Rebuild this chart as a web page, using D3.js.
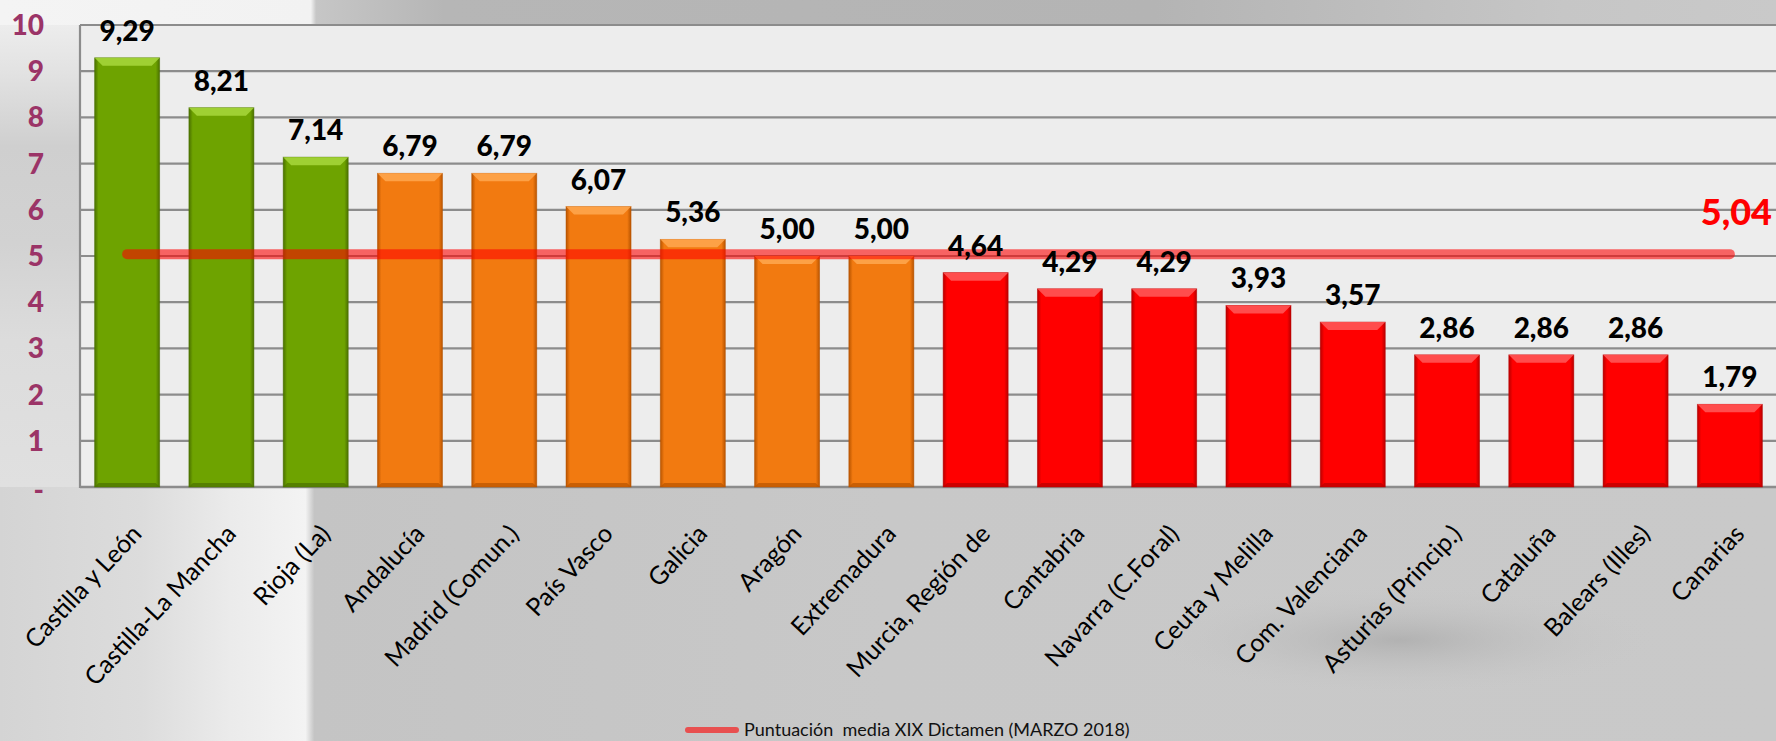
<!DOCTYPE html>
<html><head><meta charset="utf-8">
<script src="https://cdn.jsdelivr.net/npm/d3@7"></script>
<style>body{margin:0;overflow:hidden;background:#c9c9c9}</style>
</head><body>
<svg id="c" width="1776" height="741"></svg>
<script>
const categories = ["Castilla y León","Castilla-La Mancha","Rioja (La)","Andalucía","Madrid (Comun.)","País Vasco","Galicia","Aragón","Extremadura","Murcia, Región de","Cantabria","Navarra (C.Foral)","Ceuta y Melilla","Com. Valenciana","Asturias (Princip.)","Cataluña","Balears (Illes)","Canarias"];
const values = [9.29,8.21,7.14,6.79,6.79,6.07,5.36,5.00,5.00,4.64,4.29,4.29,3.93,3.57,2.86,2.86,2.86,1.79];
const groups = ["g","g","g","o","o","o","o","o","o","r","r","r","r","r","r","r","r","r"];
const average = 5.04;
const yTicks = [0,1,2,3,4,5,6,7,8,9,10];
const yTickLabels = ["-","1","2","3","4","5","6","7","8","9","10"];
const legendLabel = "Puntuación  media XIX Dictamen (MARZO 2018)";

const svg = d3.select("#c");
const W = 1776, H = 741;
const L = 80, R = 1777, T = 25, B = 487;
const fmt = v => v.toFixed(2).replace(".", ",");
const FONT = "Lato, 'Open Sans', sans-serif";

const palette = {
  g: {main:"#6ea300", light:"#a8d83c", dark:"#4a7000"},
  o: {main:"#f27a10", light:"#ffa850", dark:"#b85400"},
  r: {main:"#ff0000", light:"#ff5a5a", dark:"#b80000"}
};

const defs = svg.append("defs");
function lg(id, x2, y2, stops){
  const g = defs.append("linearGradient").attr("id",id).attr("x1",0).attr("y1",0).attr("x2",x2).attr("y2",y2);
  stops.forEach(s=>g.append("stop").attr("offset",s[0]).attr("stop-color",s[1]));
}
lg("bgTop",1,0,[[0,"#f4f4f4"],[0.175,"#f2f2f2"],[0.178,"#c6c6c6"],[0.25,"#b6b6b6"],[0.65,"#b4b4b4"],[0.88,"#c6c6c6"],[1,"#c9c9c9"]]);
lg("bgLeftCol",0,1,[[0,"#f2f2f2"],[0.15,"#e2e2e2"],[0.3,"#cfcfcf"],[0.5,"#d2d2d2"],[0.7,"#dcdcdc"],[1,"#e0e0e0"]]);
lg("bgBot",1,0,[[0,"#d4d4d4"],[0.08,"#dcdcdc"],[0.13,"#ebebeb"],[0.172,"#f3f3f3"],[0.177,"#c4c4c4"],[0.5,"#c8c8c8"],[1,"#c9c9c9"]]);
Object.entries(palette).forEach(([k,c]) => {
  lg("bar_"+k,1,0,[[0,c.dark],[0.06,c.main],[0.94,c.main],[1,c.dark]]);
});
const rg = defs.append("radialGradient").attr("id","blob");
rg.append("stop").attr("offset",0).attr("stop-color","#a8a8a8").attr("stop-opacity",0.7);
rg.append("stop").attr("offset",1).attr("stop-color","#c8c8c8").attr("stop-opacity",0);

svg.append("rect").attr("width",W).attr("height",H).attr("fill","#c9c9c9");
svg.append("rect").attr("x",0).attr("y",B).attr("width",W).attr("height",H-B).attr("fill","url(#bgBot)");
svg.append("ellipse").attr("cx",1400).attr("cy",640).attr("rx",260).attr("ry",55).attr("fill","url(#blob)");
svg.append("rect").attr("x",0).attr("y",0).attr("width",L).attr("height",B).attr("fill","url(#bgLeftCol)");
svg.append("rect").attr("x",0).attr("y",0).attr("width",W).attr("height",T).attr("fill","url(#bgTop)");

const x = d3.scaleBand().domain(categories).range([L,R]).paddingInner(0.31).paddingOuter(0.155);
const y = d3.scaleLinear().domain([0,10]).range([B,T]);

// plot area
svg.append("rect").attr("x",L).attr("y",T).attr("width",R-L).attr("height",B-T).attr("fill","#ededed");

// gridlines
svg.append("g").selectAll("line").data(yTicks.filter(t=>t>0)).join("line")
  .attr("x1",L).attr("x2",R).attr("y1",d=>y(d)).attr("y2",d=>y(d))
  .attr("stroke","#8c8c8c").attr("stroke-width",2.2);
svg.append("line").attr("x1",L).attr("x2",L).attr("y1",T).attr("y2",B+1).attr("stroke","#8c8c8c").attr("stroke-width",2.2);
svg.append("line").attr("x1",L).attr("x2",R).attr("y1",B).attr("y2",B).attr("stroke","#8c8c8c").attr("stroke-width",2.5);

// y tick labels
svg.append("g").selectAll("text").data(yTicks).join("text")
  .attr("x",44).attr("y",(d)=>y(d)+ (d===0?3:0)).attr("dy","0.36em")
  .attr("text-anchor","end")
  .attr("font-family",FONT).attr("font-weight",900).attr("font-size",28)
  .attr("fill","#9b3467")
  .text((d,i)=>yTickLabels[i]);

// bars
const bw = x.bandwidth();
const bev = 8;
const bars = svg.append("g").selectAll("g").data(categories).join("g");
bars.append("rect")
  .attr("x",d=>x(d)).attr("y",(d,i)=>y(values[i])).attr("width",bw).attr("height",(d,i)=>B-y(values[i]))
  .attr("fill",(d,i)=>"url(#bar_"+groups[i]+")")
  .attr("stroke",(d,i)=>palette[groups[i]].dark).attr("stroke-width",0.8).attr("stroke-opacity",0.6);
bars.append("path")
  .attr("d",(d,i)=>{const x0=x(d), y0=y(values[i]); return `M${x0},${y0}L${x0+bw},${y0}L${x0+bw-bev},${y0+bev}L${x0+bev},${y0+bev}Z`;})
  .attr("fill",(d,i)=>palette[groups[i]].light).attr("opacity",0.85);
bars.append("path")
  .attr("d",(d,i)=>{const x0=x(d); return `M${x0},${B}L${x0+bw},${B}L${x0+bw-4},${B-4}L${x0+4},${B-4}Z`;})
  .attr("fill",(d,i)=>palette[groups[i]].dark).attr("opacity",0.7);

// average line
svg.append("line")
  .attr("x1",x(categories[0])+bw/2).attr("x2",x(categories[categories.length-1])+bw/2)
  .attr("y1",y(average)).attr("y2",y(average))
  .attr("stroke","#ff0000").attr("stroke-opacity",0.58).attr("stroke-width",10).attr("stroke-linecap","round");

// value labels
svg.append("g").selectAll("text").data(categories).join("text")
  .attr("x",d=>x(d)+bw/2).attr("y",(d,i)=>y(values[i])-17)
  .attr("text-anchor","middle")
  .attr("font-family",FONT).attr("font-weight",900).attr("font-size",28)
  .attr("fill","#000")
  .text((d,i)=>fmt(values[i]));

// average label
svg.append("text").attr("x",1772).attr("y",225).attr("text-anchor","end")
  .attr("font-family",FONT).attr("font-weight",900).attr("font-size",36)
  .attr("fill","#ff0000").text(fmt(average));

// category labels
svg.append("g").selectAll("text").data(categories).join("text")
  .attr("transform",d=>`translate(${x(d)+bw/2+16},${B+48}) rotate(-47)`)
  .attr("text-anchor","end")
  .attr("font-family",FONT).attr("font-size",25)
  .attr("fill","#000")
  .text(d=>d);

// legend
svg.append("line").attr("x1",688).attr("x2",736).attr("y1",730).attr("y2",730)
  .attr("stroke","#e85050").attr("stroke-width",6).attr("stroke-linecap","round");
svg.append("text").attr("x",744).attr("y",736).style("white-space","pre")
  .attr("font-family",FONT).attr("font-size",18)
  .attr("fill","#111").text(legendLabel);
</script>
</body></html>
